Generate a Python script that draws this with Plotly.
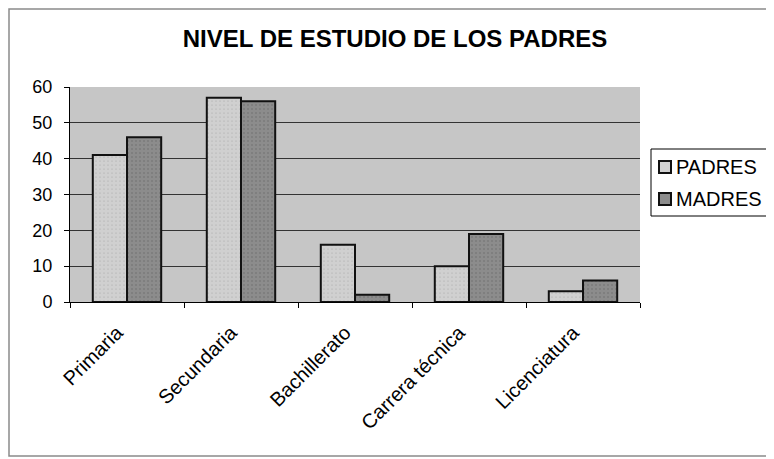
import plotly.graph_objects as go

categories = ["Primaria", "Secundaria", "Bachillerato", "Carrera técnica", "Licenciatura"]
series_names = ["PADRES", "MADRES"]
padres = [41, 57, 16, 10, 3]
madres = [46, 56, 2, 19, 6]
y_ticks = [0, 10, 20, 30, 40, 50, 60]

FONT = "Arial, Liberation Sans, sans-serif"
COL_P = "#d0d0d0"
COL_M = "#8c8c8c"

# the page body has an 8px margin: figure pixel = image pixel - 8
OFF = 8
W, H = 774 - OFF, 459 - OFF
# plot area in image pixels
IL, IR, IT, IB = 70, 640, 87, 302
pw, ph = IR - IL, IB - IT


def px(ix):
    return (ix - IL) / pw


def py(iy):
    return (IB - iy) / ph


fig = go.Figure()
fig.add_trace(go.Bar(
    x=categories, y=padres, name=series_names[0],
    marker=dict(color=COL_P, line=dict(color="#111111", width=2),
                pattern=dict(shape=".", fgcolor="#a8a8a8", bgcolor=COL_P,
                             size=4, solidity=0.15)),
))
fig.add_trace(go.Bar(
    x=categories, y=madres, name=series_names[1],
    marker=dict(color=COL_M, line=dict(color="#111111", width=2),
                pattern=dict(shape=".", fgcolor="#6a6a6a", bgcolor=COL_M,
                             size=4, solidity=0.2)),
))

# legend drawn as box + swatches + labels
legend_shapes = [
    dict(type="rect", xref="paper", yref="paper",
         x0=px(651), x1=px(772), y0=py(216), y1=py(149),
         line=dict(color="black", width=1), fillcolor="white"),
]
legend_annos = []
for name, col, cy in [(series_names[0], COL_P, 167), (series_names[1], COL_M, 199)]:
    legend_shapes.append(dict(
        type="rect", xref="paper", yref="paper",
        x0=px(659), x1=px(671), y0=py(cy + 6), y1=py(cy - 6),
        line=dict(color="#111111", width=2), fillcolor=col))
    legend_annos.append(dict(
        text=name, xref="paper", yref="paper", x=px(674), y=py(cy),
        xanchor="left", yanchor="middle", showarrow=False,
        font=dict(family=FONT, size=20, color="black")))

fig.update_layout(
    width=W, height=H,
    margin=dict(l=IL - OFF, r=W - (IR - OFF), t=IT - OFF, b=H - (IB - OFF)),
    paper_bgcolor="white",
    plot_bgcolor="#c6c6c6",
    barmode="group",
    bargap=0.40,
    bargroupgap=0,
    showlegend=False,
    font=dict(family=FONT, color="black"),
    title=dict(
        text="<b>NIVEL DE ESTUDIO DE LOS PADRES</b>",
        x=(395 - OFF) / W, xanchor="center", xref="container",
        y=1 - (39 - OFF) / H, yanchor="middle", yref="container",
        font=dict(family=FONT, size=24, color="black"),
    ),
    xaxis=dict(
        type="category",
        tickangle=-45,
        tickson="boundaries",
        ticks="outside", ticklen=5, tickcolor="black",
        showline=True, linecolor="black", linewidth=1,
        showgrid=False,
        ticklabelstandoff=10,
        ticklabelshift=-10,
        tickfont=dict(family=FONT, size=20, color="black"),
    ),
    yaxis=dict(
        range=[0, 60],
        tickvals=y_ticks,
        ticks="outside", ticklen=5, tickcolor="black",
        showline=True, linecolor="black", linewidth=1,
        showgrid=True, gridcolor="#333333", gridwidth=1,
        zeroline=False,
        ticklabelstandoff=8,
        tickfont=dict(family=FONT, size=18, color="black"),
    ),
    shapes=[
        dict(type="rect", xref="paper", yref="paper",
             x0=px(9), x1=px(773), y0=py(456), y1=py(9),
             line=dict(color="#8a8a8a", width=1.5), fillcolor="rgba(0,0,0,0)",
             layer="below"),
    ] + legend_shapes,
    annotations=legend_annos,
)

fig.write_html("out.html")
